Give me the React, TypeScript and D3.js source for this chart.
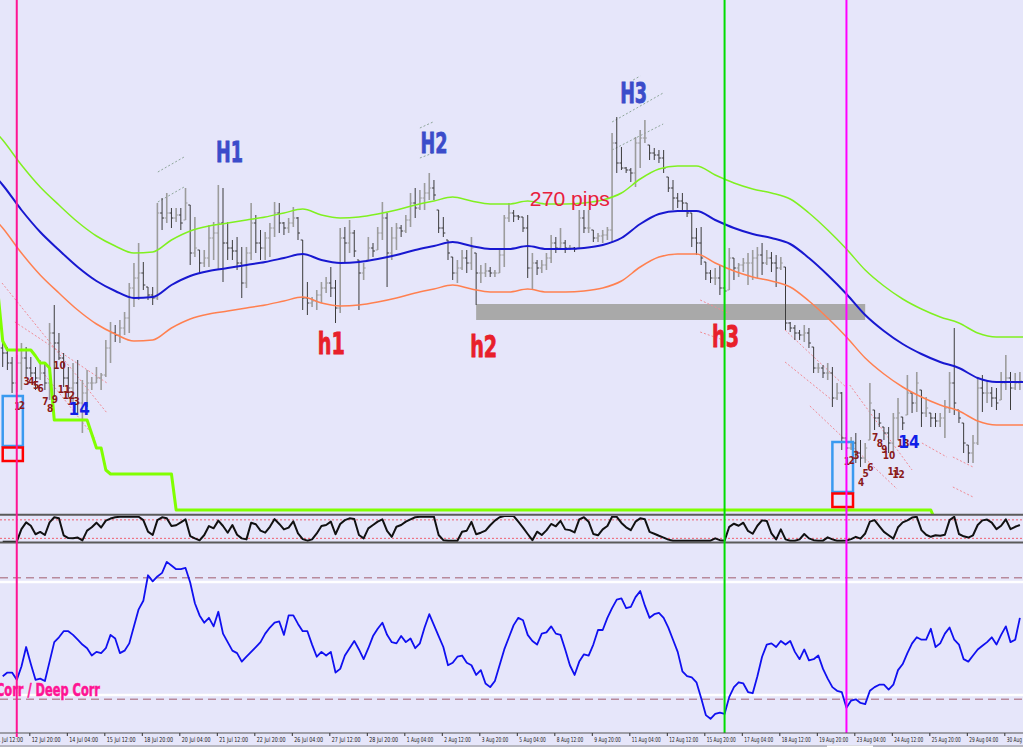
import React from 'react';
import * as d3 from 'd3';

const W = 1023;
const H = 747;

// ---------- price bars (H4), price in pips above an arbitrary base ----------
const barHigh = [
  173,166,156,158,170,166,156,146,153,150,
  190,208,180,160,146,150,153,133,143,136,
  146,140,173,191,188,193,201,230,250,270,
  251,226,226,310,315,320,305,305,305,325,
  308,296,263,263,288,291,328,325,291,273,
  276,266,266,310,298,283,281,290,311,310,
  291,295,306,296,273,231,216,223,231,236,
  246,233,285,286,293,283,253,250,276,270,
  286,311,300,286,290,288,298,320,325,323,
  330,340,333,303,296,273,256,253,263,263,
  276,260,248,250,246,243,263,298,310,303,
  298,296,298,260,253,253,260,278,276,285,
  273,268,266,303,303,303,283,280,283,286,
  380,396,366,346,345,376,383,393,368,365,
  363,363,336,333,320,320,310,300,285,286,
  251,243,245,248,226,265,255,250,255,260,
  263,266,270,263,261,258,256,246,191,188,
  183,188,185,166,150,148,150,146,130,121,
  80,76,80,73,70,130,103,100,86,86,
  100,115,96,138,121,141,123,116,100,100,
  100,113,141,185,103,90,68,78,136,138,
  133,126,125,141,158,141,140,141,
];
const barLow = [
  146,143,120,121,123,136,136,123,133,123,
  113,116,153,126,116,110,100,80,106,123,
  130,123,136,150,171,170,178,180,206,213,
  223,213,208,213,283,290,285,291,283,293,
  248,256,240,246,246,253,243,231,253,253,
  243,215,225,253,260,253,253,256,276,280,
  278,280,286,273,203,198,206,203,210,220,
  216,190,200,250,260,256,203,233,253,256,
  263,273,226,253,263,276,280,286,295,303,
  303,313,313,280,276,253,233,230,243,240,
  243,208,230,236,236,236,240,246,291,291,
  293,281,235,223,238,240,243,250,260,263,
  260,263,261,265,280,280,271,271,270,273,
  271,340,343,340,331,326,345,370,353,353,
  350,340,321,303,305,303,296,266,258,248,
  233,230,228,218,213,223,233,236,241,228,
  233,235,238,248,241,226,243,183,181,173,
  173,171,165,140,140,135,133,106,113,63,
  50,63,50,46,50,73,83,86,73,60,
  60,73,83,98,100,101,86,96,86,86,
  86,75,100,98,90,60,50,50,68,101,
  110,106,103,113,123,103,123,123,
];
const barClose = [
  160,150,130,150,155,145,140,135,140,130,
  180,170,155,135,125,130,110,120,130,130,
  135,138,165,180,178,185,195,225,235,240,
  228,218,215,300,295,300,295,298,290,310,
  260,265,250,255,275,280,290,270,265,262,
  250,230,260,290,270,265,275,285,300,290,
  285,290,295,280,215,210,212,218,225,230,
  225,205,275,270,280,262,240,245,265,262,
  280,295,260,275,285,282,293,310,305,315,
  320,325,318,285,280,260,240,245,255,250,
  265,240,240,242,240,240,258,295,300,297,
  296,285,245,250,245,248,255,270,265,270,
  265,265,264,295,285,285,275,277,278,283,
  370,350,345,343,340,370,375,375,360,358,
  355,345,325,315,312,310,300,275,270,255,
  240,235,235,225,222,255,245,248,250,250,
  255,258,250,255,250,245,250,190,185,180,
  178,180,170,145,145,140,140,115,120,75,
  65,70,60,55,65,110,95,90,80,70,
  95,100,90,120,110,130,100,105,95,92,
  95,105,130,110,95,70,60,70,125,120,
  120,115,110,130,135,125,130,132,
];
const firstOpen = 165;

// ---------- moving average (sampled every 4 bars, starting at bar -4) ----------
const maStart = -4;
const maStep = 4;
const maMid = [
  348,328,303,281,263,246,232,222,215,216,228,237,242,245,248,251,255,259,253,250,
  251,254,258,263,267,271,267,264,264,267,264,264,265,268,275,289,299,302,302,293,
  285,279,275,269,255,238,219,198,182,169,159,151,145,135,131,131,131,
];
const envUp = 45;
const envDown = 43;

// ---------- trailing stop (bar index, level) ----------
const stopBars = [-1, 0, 1, 6, 7, 8, 9, 10, 11, 18, 19, 20, 21, 22, 23, 36, 37, 198, 199];
const stopLevels = [220, 172, 163, 163, 157, 150, 150, 145, 93, 93, 79, 65, 65, 43, 39, 39, 3, 3, -8];

// ---------- oscillator panel (0..100) ----------
const oscValues = [
  0,0,0,0,49,75,62,29,38,26,
  75,95,91,25,14,13,16,5,43,56,
  74,55,82,90,95,97,97,97,97,97,
  84,39,26,84,95,91,61,64,75,87,
  22,13,5,26,61,52,82,61,35,65,
  27,13,9,74,68,43,35,58,88,69,
  48,55,79,32,10,4,9,32,61,65,
  78,29,69,84,91,88,26,13,52,65,
  78,87,42,19,58,65,78,87,95,97,
  97,97,97,26,6,4,4,4,39,43,
  77,29,35,43,64,82,95,100,100,100,
  78,55,30,6,39,26,44,69,60,81,
  48,45,36,87,95,78,30,25,48,61,
  97,97,73,56,45,78,91,87,38,31,
  23,16,8,4,4,4,4,4,4,4,
  4,4,13,6,4,58,70,62,74,42,
  31,62,83,81,32,9,48,9,4,4,
  9,30,13,6,4,4,17,9,4,4,
  5,10,19,12,32,78,84,61,38,25,
  12,56,75,83,94,97,45,27,19,25,
  23,27,84,97,30,21,16,25,65,83,
  86,74,49,62,87,49,58,65,
];
const oscLevels = [85, 13];

// ---------- correlation panel ----------
const corrValues = [
  19,22,22,16,27,43,29,16,17,15,
  31,47,51,56,56,53,49,45,42,36,
  39,38,42,53,50,38,40,46,60,74,
  81,102,97,101,104,113,110,107,107,108,
  96,79,69,63,67,60,72,54,47,40,
  38,31,35,39,43,47,54,59,63,64,
  53,69,69,62,56,56,45,35,39,36,
  39,22,25,36,42,48,41,33,42,52,
  58,63,53,47,46,52,47,50,42,46,
  59,70,61,52,43,28,30,35,36,30,
  28,20,24,13,10,15,28,41,51,61,
  67,65,53,48,45,54,55,60,54,53,
  41,28,20,31,37,36,45,57,57,67,
  75,82,83,75,76,84,89,77,67,70,
  71,67,59,49,39,23,19,18,14,1,
  -13,-16,-12,-11,-12,2,10,14,13,6,
  5,19,35,45,46,43,48,45,48,39,
  33,41,32,33,36,25,17,10,7,6,
  -7,-1,0,-3,-4,7,10,12,12,8,
  12,24,29,38,46,51,49,49,58,43,
  46,54,59,49,45,33,31,36,41,44,
  47,51,45,53,60,47,49,67,
];
const corrDashLevels = [100, 0];
const corrWhiteLevels = [96.5, 3.5];

// ---------- time axis ----------
const timeLabelStart = -2;
const timeLabelStep = 8;
const timeLabels = [
  '11 Jul 12:00','12 Jul 20:00','14 Jul 04:00','15 Jul 12:00','18 Jul 20:00','20 Jul 04:00',
  '21 Jul 12:00','22 Jul 20:00','26 Jul 04:00','27 Jul 12:00','28 Jul 20:00','1 Aug 04:00',
  '2 Aug 12:00','3 Aug 20:00','5 Aug 04:00','8 Aug 12:00','9 Aug 20:00','11 Aug 04:00',
  '12 Aug 12:00','15 Aug 20:00','17 Aug 04:00','18 Aug 12:00','19 Aug 20:00','23 Aug 04:00',
  '24 Aug 12:00','25 Aug 20:00','29 Aug 04:00','30 Aug 12:00',
];

// ---------- annotations ----------
const vLineBars = [3, 154, 180];
const vLineColors = ['#FF1493', '#00DD00', '#FF00FF'];

const peakNames = ['H1', 'H2', 'H3'];
const peakBars = [48.4, 92, 134.6];
const peakLevels = [351, 360, 410];

const troughNames = ['h1', 'h2', 'h3'];
const troughBars = [70.1, 102.6, 154.2];
const troughLevels = [159, 156, 166];

const pipsText = '270 pips';
const pipsBar = 121;
const pipsLevel = 307;

const leftCountStart = 3;
const leftCountLevels = [103, 104, 128, 128, 124, 121, 108, 101, 110, 144, 120, 114, 108, 98];
const rightCountStart = 180;
const rightCountLevels = [48, 49, 54, 27, 36, 42, 72, 66, 60, 54, 38, 35, 66, 65];

// boxes: [barFrom, barTo, blueTop, blueBottom/redTop, redBottom]
const setupBoxes = [
  [0, 4.3, 117, 67, 52],
  [177, 181.4, 71, 21, 6],
];
// support zone: [barFrom, barTo, top, bottom]
const zone = [101, 184, 209, 193];

// dotted trend lines near peaks: [bar1, level1, bar2, level2]
const peakLines = [
  [33.1, 341, 38.7, 356], [33.1, 311, 38.7, 326],
  [89, 385, 91.8, 391], [89, 355, 91.8, 360],
  [130, 391, 140.9, 420], [130, 363, 140.9, 389],
  [134.5, 433, 136, 437],
];
// dotted channel lines (red)
const channelLines = [
  [-0.15, 230, 22.25, 100], [2.6, 191, 22.25, 130], [9, 138, 19.7, 75],
  [166.9, 183, 180.1, 125], [166.9, 151, 176.9, 113], [172.2, 107, 190.8, 24],
  [180.7, 128, 194, 43], [196.1, 70, 201.4, 56], [202.7, 56, 207, 46], [202.7, 26, 207, 16],
  [148.8, 213, 154.7, 200], [148.8, 181, 153.7, 173],
];

const NARROW = "'Liberation Sans Narrow', 'DejaVu Sans Condensed', 'Arial Narrow', sans-serif";

export default function App() {
  const nBars = barHigh.length;
  const x = d3.scaleLinear().domain([0, nBars - 1]).range([2.7, 2.7 + (nBars - 1) * 4.6875]);
  const yMain = d3.scaleLinear().domain([0, 513]).range([513, 0]);
  const yOsc = d3.scaleLinear().domain([0, 100]).range([541.7, 516]);
  const yCorr = d3.scaleLinear().domain([0, 100]).range([699.3, 577.7]);

  const maLine = (off: number) =>
    d3.line<number>()
      .x((_, k) => x(maStart + k * maStep))
      .y((v) => yMain(v + off))
      .curve(d3.curveMonotoneX)(maMid) || '';

  const stopPath = d3.line<number>()
    .x((_, k) => x(stopBars[k]))
    .y((v) => yMain(v))(stopLevels) || '';

  const oscPath = d3.line<number>().x((_, i) => x(i)).y((v) => yOsc(v))(oscValues) || '';
  const corrPath = d3.line<number>().x((_, i) => x(i)).y((v) => yCorr(v))(corrValues) || '';

  const bars = barHigh.map((hi, i) => {
    const lo = barLow[i];
    const c = barClose[i];
    const o = i === 0 ? firstOpen : barClose[i - 1];
    const oc = Math.max(lo, Math.min(hi, o));
    const up = c >= o;
    const cx = x(i);
    const col = up ? '#9c9c9c' : '#3c3c3c';
    const sw = up ? 1.6 : 1;
    return (
      <g key={i} stroke={col} strokeWidth={sw}>
        <line x1={cx} x2={cx} y1={yMain(hi)} y2={yMain(lo)} />
        <line x1={cx - 2} x2={cx} y1={yMain(oc)} y2={yMain(oc)} strokeWidth={1} />
        <line x1={cx} x2={cx + 2} y1={yMain(c)} y2={yMain(c)} strokeWidth={1} />
      </g>
    );
  });

  return (
    <svg
      width={W}
      height={H}
      style={{ position: 'absolute', left: 0, top: 0, display: 'block', overflow: 'hidden' }}
      fontFamily="'Liberation Sans', Arial, sans-serif"
    >
      <defs>
        <clipPath id="cMain"><rect x={0} y={0} width={W} height={514} /></clipPath>
        <clipPath id="cOsc"><rect x={0} y={516} width={W} height={26} /></clipPath>
        <clipPath id="cCorr"><rect x={0} y={543.5} width={W} height={189} /></clipPath>
      </defs>
      <rect x={0} y={0} width={W} height={H} fill="#E6E6FA" />

      {/* ---------------- main panel ---------------- */}
      <g clipPath="url(#cMain)">
        <rect
          x={x(zone[0])}
          y={yMain(zone[2])}
          width={x(zone[1]) - x(zone[0])}
          height={yMain(zone[3]) - yMain(zone[2])}
          fill="#A9A9A9"
        />
        {channelLines.map((l, k) => (
          <line key={'ch' + k} x1={x(l[0])} y1={yMain(l[1])} x2={x(l[2])} y2={yMain(l[3])}
            stroke="#F08C96" strokeWidth={1} strokeDasharray="2 2" />
        ))}
        {peakLines.map((l, k) => (
          <line key={'pk' + k} x1={x(l[0])} y1={yMain(l[1])} x2={x(l[2])} y2={yMain(l[3])}
            stroke="#8FA69A" strokeWidth={1} strokeDasharray="2 2" />
        ))}
        {bars}
        <path d={maLine(envUp)} fill="none" stroke="#80F020" strokeWidth={1.5} />
        <path d={maLine(0)} fill="none" stroke="#1818D0" strokeWidth={2} />
        <path d={maLine(-envDown)} fill="none" stroke="#FF8050" strokeWidth={1.5} />
        <path d={stopPath} fill="none" stroke="#80FF00" strokeWidth={3} strokeLinejoin="round" />

        {setupBoxes.map((b, k) => (
          <g key={'bx' + k} fill="none" strokeWidth={2.5}>
            <rect x={x(b[0])} y={yMain(b[2])} width={x(b[1]) - x(b[0])} height={yMain(b[3]) - yMain(b[2])}
              stroke="#3A9AF0" />
            <rect x={x(b[0])} y={yMain(b[3]) + 1.5} width={x(b[1]) - x(b[0])} height={yMain(b[4]) - yMain(b[3]) - 1.5}
              stroke="#FF0000" />
          </g>
        ))}

        {leftCountLevels.map((v, k) => (
          <text key={'lc' + k} x={x(leftCountStart + k) + (k === 13 ? 1.5 : 0.5)} y={yMain(v)}
            textAnchor="middle" fontFamily={NARROW} fontWeight="bold"
            fontSize={k === 13 ? 17 : 10} fill={k === 13 ? '#1020E8' : '#8B1A1A'}>
            {k + 1}
          </text>
        ))}
        {rightCountLevels.map((v, k) => (
          <text key={'rc' + k} x={x(rightCountStart + k) + (k === 13 ? 1.5 : 0.5)} y={yMain(v)}
            textAnchor="middle" fontFamily={NARROW} fontWeight="bold"
            fontSize={k === 13 ? 17 : 10} fill={k === 13 ? '#1020E8' : '#8B1A1A'}>
            {k + 1}
          </text>
        ))}

        {peakNames.map((t, k) => (
          <text key={t} x={x(peakBars[k])} y={yMain(peakLevels[k])} textAnchor="middle"
            fontFamily={NARROW} fontWeight="bold" fontSize={29} fill="#3B4CCA"
            stroke="#3B4CCA" strokeWidth={0.8} textLength={27} lengthAdjust="spacingAndGlyphs">
            {t}
          </text>
        ))}
        {troughNames.map((t, k) => (
          <text key={t} x={x(troughBars[k])} y={yMain(troughLevels[k])} textAnchor="middle"
            fontFamily={NARROW} fontWeight="bold" fontSize={30} fill="#E8202A"
            stroke="#E8202A" strokeWidth={0.8} textLength={27} lengthAdjust="spacingAndGlyphs">
            {t}
          </text>
        ))}
        <text x={x(pipsBar)} y={yMain(pipsLevel)} textAnchor="middle" fontSize={20} fill="#E8203C"
          textLength={80} lengthAdjust="spacingAndGlyphs">
          {pipsText}
        </text>
      </g>

      {/* ---------------- oscillator panel ---------------- */}
      <g clipPath="url(#cOsc)">
        {oscLevels.map((lv) => (
          <line key={'ol' + lv} x1={0} x2={W} y1={yOsc(lv)} y2={yOsc(lv)} stroke="#F06070"
            strokeWidth={1} strokeDasharray="2 2" />
        ))}
        <path d={oscPath} fill="none" stroke="#111" strokeWidth={2} strokeLinejoin="round" />
      </g>
      <line x1={0} x2={W} y1={514.8} y2={514.8} stroke="#5a5a5a" strokeWidth={2} />
      <line x1={0} x2={W} y1={542.5} y2={542.5} stroke="#5a5a5a" strokeWidth={2} />

      {/* ---------------- correlation panel ---------------- */}
      <g clipPath="url(#cCorr)">
        {corrWhiteLevels.map((lv) => (
          <line key={'wl' + lv} x1={0} x2={W} y1={yCorr(lv)} y2={yCorr(lv)} stroke="#FFFFFF" strokeWidth={2.5} />
        ))}
        {corrDashLevels.map((lv) => (
          <line key={'dl' + lv} x1={0} x2={W} y1={yCorr(lv)} y2={yCorr(lv)} stroke="#B88A9C"
            strokeWidth={1.5} strokeDasharray="8 5" />
        ))}
        <path d={corrPath} fill="none" stroke="#1010F0" strokeWidth={1.8} strokeLinejoin="round" />
        <text x={-4} y={696} fontFamily={NARROW} fontWeight="bold" fontSize={17} fill="#FF1493"
          stroke="#FF1493" strokeWidth={0.5} textLength={104} lengthAdjust="spacingAndGlyphs">
          Corr / Deep Corr
        </text>
      </g>

      {/* ---------------- vertical lines ---------------- */}
      {vLineBars.map((b, k) => (
        <line key={'vl' + k} x1={x(b)} x2={x(b)} y1={0} y2={733} stroke={vLineColors[k]} strokeWidth={2} />
      ))}

      {/* ---------------- time axis ---------------- */}
      <rect x={0} y={733} width={W} height={14} fill="#E6E6FA" />
      <line x1={0} x2={W} y1={733} y2={733} stroke="#555" strokeWidth={1} />
      <line x1={0} x2={W} y1={746} y2={746} stroke="#888" strokeWidth={1} />
      <rect x={827} y={745.5} width={46} height={1.5} fill="#FFFFFF" />
      {timeLabels.map((t, k) => {
        const tx = x(timeLabelStart + k * timeLabelStep) - 1;
        return (
          <g key={'tl' + k}>
            <line x1={tx} x2={tx} y1={733} y2={736} stroke="#333" strokeWidth={1} />
            <text x={tx + 2} y={742} fontFamily={NARROW} fontSize={6.8} fill="#222"
              textLength={t.length * 2.4} lengthAdjust="spacingAndGlyphs">
              {t}
            </text>
          </g>
        );
      })}
      <line x1={x(vLineBars[0])} x2={x(vLineBars[0])} y1={733} y2={737} stroke={vLineColors[0]} strokeWidth={2} />
    </svg>
  );
}
